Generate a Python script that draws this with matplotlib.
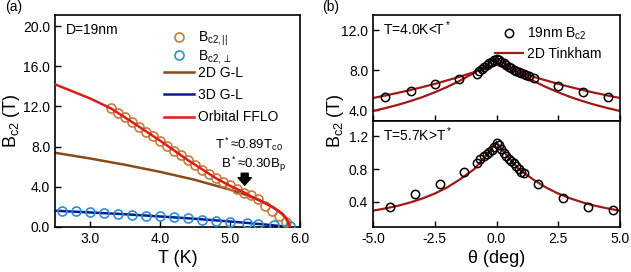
import matplotlib
matplotlib.use("Agg")
import matplotlib.pyplot as plt
from matplotlib.ticker import FormatStrFormatter

plt.rcParams['font.family'] = ['Liberation Sans', 'DejaVu Sans']
plt.rcParams['mathtext.fontset'] = 'custom'
plt.rcParams['mathtext.rm'] = 'Liberation Sans'
plt.rcParams['mathtext.it'] = 'Liberation Sans:italic'
plt.rcParams['mathtext.default'] = 'rm'

# ---- panel (a) data ----
T_par = [3.3, 3.4, 3.5, 3.6, 3.7, 3.8, 3.9, 4.0, 4.1, 4.2, 4.3, 4.4, 4.5,
         4.6, 4.7, 4.8, 4.9, 5.0, 5.1, 5.2, 5.3, 5.4, 5.5, 5.6, 5.7, 5.8]
B_par = [11.8, 11.3, 10.9, 10.45, 9.95, 9.5, 9.05, 8.6, 8.1, 7.55, 7.15, 6.65, 6.15,
         5.65, 5.3, 4.9, 4.5, 4.15, 3.8, 3.4, 3.15, 2.75, 2.1, 1.6, 1.1, 0.5]
T_perp = [2.6, 2.8, 3.0, 3.2, 3.4, 3.6, 3.8, 4.0, 4.2, 4.4, 4.6, 4.8, 5.0,
          5.24, 5.4, 5.63, 5.86]
B_perp = [1.58, 1.55, 1.46, 1.40, 1.30, 1.23, 1.13, 1.06, 0.96, 0.86, 0.73, 0.63, 0.50,
          0.40, 0.30, 0.17, 0.07]

T_gl2d = [2.5, 3.0, 3.5, 4.0, 4.5, 5.0, 5.2, 5.4, 5.6, 5.7, 5.8, 5.85]
B_gl2d = [7.39, 6.82, 6.19, 5.49, 4.69, 3.72, 3.26, 2.71, 2.02, 1.56, 0.90, 0.0]
T_gl3d = [2.5, 3.0, 3.5, 4.0, 4.5, 5.0, 5.5, 5.85]
B_gl3d = [1.62, 1.45, 1.27, 1.05, 0.82, 0.55, 0.25, 0.0]
T_fflo = [2.5, 3.0, 3.3, 3.6, 4.0, 4.4, 4.8, 5.0, 5.2, 5.3, 5.4, 5.5, 5.6, 5.7, 5.75, 5.8, 5.83, 5.85]
B_fflo = [14.2, 12.8, 11.8, 10.45, 8.6, 6.65, 4.85, 4.1, 3.45, 3.05, 2.75, 2.4, 2.02, 1.56, 1.3, 0.9, 0.55, 0.1]

# ---- panel (b) data ----
th_4K = [-4.5, -3.47, -2.5, -1.52, -0.79, -0.7, -0.6, -0.5, -0.4, -0.3, -0.2, -0.1, 0.0,
         0.1, 0.2, 0.3, 0.4, 0.5, 0.6, 0.7, 0.8, 0.9, 1.0, 1.1, 1.2, 1.3, 1.5, 2.5, 3.5, 4.5]
B_4K = [5.27, 5.93, 6.57, 7.1, 7.63, 7.9, 8.1, 8.3, 8.5, 8.7, 8.85, 9.0, 9.1,
        9.0, 8.85, 8.7, 8.55, 8.35, 8.2, 8.05, 7.95, 7.85, 7.75, 7.65, 7.55, 7.45, 7.23, 6.43, 5.83, 5.33]
th_fit = [-5, -4.5, -4, -3.5, -3, -2.5, -2, -1.5, -0.9, -0.5, -0.25, -0.1, 0,
          0.1, 0.25, 0.5, 0.9, 1.5, 2, 2.5, 3, 3.5, 4, 4.5, 5]
B_4K_steep = [3.9, 4.19, 4.51, 4.88, 5.29, 5.77, 6.3, 6.9, 7.73, 8.35, 8.76, 9.02, 9.2,
              9.02, 8.76, 8.35, 7.73, 6.9, 6.3, 5.77, 5.29, 4.88, 4.51, 4.19, 3.9]
B_4K_flat = [5.2, 5.45, 5.71, 5.99, 6.29, 6.61, 6.96, 7.32, 7.79, 8.12, 8.33, 8.46, 8.55,
             8.46, 8.33, 8.12, 7.79, 7.32, 6.96, 6.61, 6.29, 5.99, 5.71, 5.45, 5.2]

th_57K = [-4.3, -3.3, -2.3, -1.3, -0.8, -0.65, -0.5, -0.4, -0.3, -0.2, -0.1, 0.0,
          0.1, 0.2, 0.3, 0.4, 0.5, 0.6, 0.7, 0.8, 0.9, 1.0, 1.1, 1.7, 2.7, 3.7, 4.7]
B_57K = [0.34, 0.50, 0.62, 0.76, 0.87, 0.92, 0.96, 0.99, 1.01, 1.04, 1.07, 1.12,
         1.10, 1.05, 1.0, 0.96, 0.93, 0.90, 0.87, 0.84, 0.80, 0.77, 0.75, 0.62, 0.44, 0.34, 0.30]
B_57K_fit = [0.29, 0.318, 0.35, 0.39, 0.44, 0.50, 0.575, 0.67, 0.80, 0.94, 1.03, 1.09, 1.13,
             1.09, 1.03, 0.94, 0.80, 0.67, 0.575, 0.50, 0.44, 0.39, 0.35, 0.318, 0.29]

c_or = '#c87a3a'
c_bl = '#2a8fd4'
c_brown = '#8a4a1a'
c_navy = '#0d1a8c'
c_red = '#e01b1b'
c_dred = '#a01818'

fig = plt.figure(figsize=(6.31, 2.72), dpi=100)
W, H = 631, 272


def style(ax):
    for s in ax.spines.values():
        s.set_linewidth(1.2)
    ax.tick_params(direction='in', length=4, width=1, labelsize=10)


# ---- (a) ----
axa = fig.add_axes([55 / W, 1 - 227 / H, 245 / W, 212 / H])
style(axa)
h1, = axa.plot(T_par, B_par, 'o', mfc='none', mec=c_or, ms=6.5, mew=1.2, label='B$_{c2,||}$', zorder=3)
h2, = axa.plot(T_perp, B_perp, 'o', mfc='none', mec=c_bl, ms=6.5, mew=1.2, label='B$_{c2,\\perp}$', zorder=3)
h3, = axa.plot(T_gl2d, B_gl2d, '-', color=c_brown, lw=1.8, label='2D G-L')
h4, = axa.plot(T_gl3d, B_gl3d, '-', color=c_navy, lw=1.8, label='3D G-L')
h5, = axa.plot(T_fflo, B_fflo, '-', color=c_red, lw=1.8, label='Orbital FFLO', zorder=4)
axa.set_xlim(2.5, 6.0)
axa.set_ylim(0, 21.1)
axa.set_xticks([3.0, 4.0, 5.0, 6.0])
axa.set_yticks([0, 4, 8, 12, 16, 20])
axa.xaxis.set_major_formatter(FormatStrFormatter('%.1f'))
axa.yaxis.set_major_formatter(FormatStrFormatter('%.1f'))
axa.set_xlabel('T (K)', fontsize=13, labelpad=3)
leg1 = axa.legend(handles=[h1, h2], loc='upper left', bbox_to_anchor=(0.41, 0.97), frameon=False,
                  fontsize=10, handlelength=2.2, handletextpad=0.25, labelspacing=0.0,
                  borderaxespad=0.2)
axa.add_artist(leg1)
axa.legend(handles=[h3, h4, h5], loc='upper left', bbox_to_anchor=(0.41, 0.80), frameon=False,
           fontsize=10, handlelength=2.2, handletextpad=0.25, labelspacing=0.6,
           borderaxespad=0.2)
axa.text(0.045, 0.93, 'D=19nm', transform=axa.transAxes, fontsize=10, va='center')
axa.text(5.27, 8.2, 'T$^*$≈0.89T$_{c0}$', fontsize=9.5, ha='center', va='center')
axa.text(5.33, 6.2, 'B$^*$≈0.30B$_p$', fontsize=9.5, ha='center', va='center')
axa.annotate('', xy=(5.21, 4.15), xytext=(5.21, 5.35),
             arrowprops=dict(arrowstyle='simple,head_width=0.95,head_length=0.55,tail_width=0.5',
                             color='k', shrinkA=0, shrinkB=0))
fig.text(12 / W, 1 - 121 / H, 'B$_{c2}$ (T)', rotation=90, fontsize=13, ha='center', va='center')
fig.text(5 / W, 1 - 7 / H, '(a)', fontsize=10, va='center')

# ---- (b) ----
axt = fig.add_axes([373 / W, 1 - 121 / H, 247 / W, 106 / H])
axb = fig.add_axes([373 / W, 1 - 227 / H, 247 / W, 106 / H], sharex=axt)
style(axt)
style(axb)
axt.plot(th_4K, B_4K, 'o', mfc='none', mec='k', ms=6, mew=1.1, label='19nm B$_{c2}$', zorder=3)
axt.plot(th_fit, B_4K_steep, '-', color=c_dred, lw=1.6, label='2D Tinkham')
axt.plot(th_fit, B_4K_flat, '-', color=c_dred, lw=1.6)
axt.set_ylim(2.9, 13.5)
axt.set_yticks([4, 8, 12])
axt.yaxis.set_major_formatter(FormatStrFormatter('%.1f'))
axt.tick_params(labelbottom=False)
axt.text(0.04, 0.87, 'T=4.0K<T$^*$', transform=axt.transAxes, fontsize=10, va='center')
axt.legend(loc='upper left', bbox_to_anchor=(0.46, 0.98), frameon=False, fontsize=10,
           handlelength=2.0, handletextpad=0.3, labelspacing=0.35, borderaxespad=0.2)

axb.plot(th_57K, B_57K, 'o', mfc='none', mec='k', ms=6, mew=1.1, zorder=3)
axb.plot(th_fit, B_57K_fit, '-', color=c_dred, lw=1.6)
axb.set_xlim(-5, 5)
axb.set_ylim(0.09, 1.39)
axb.set_xticks([-5, -2.5, 0, 2.5, 5])
axb.set_yticks([0.4, 0.8, 1.2])
axb.xaxis.set_major_formatter(FormatStrFormatter('%.1f'))
axb.yaxis.set_major_formatter(FormatStrFormatter('%.1f'))
axb.set_xlabel('θ (deg)', fontsize=13, labelpad=3)
axb.text(0.04, 0.87, 'T=5.7K>T$^*$', transform=axb.transAxes, fontsize=10, va='center')
fig.text(336 / W, 1 - 121 / H, 'B$_{c2}$ (T)', rotation=90, fontsize=13, ha='center', va='center')
fig.text(322 / W, 1 - 7 / H, '(b)', fontsize=10, va='center')

fig.savefig('out.png', dpi=100)
